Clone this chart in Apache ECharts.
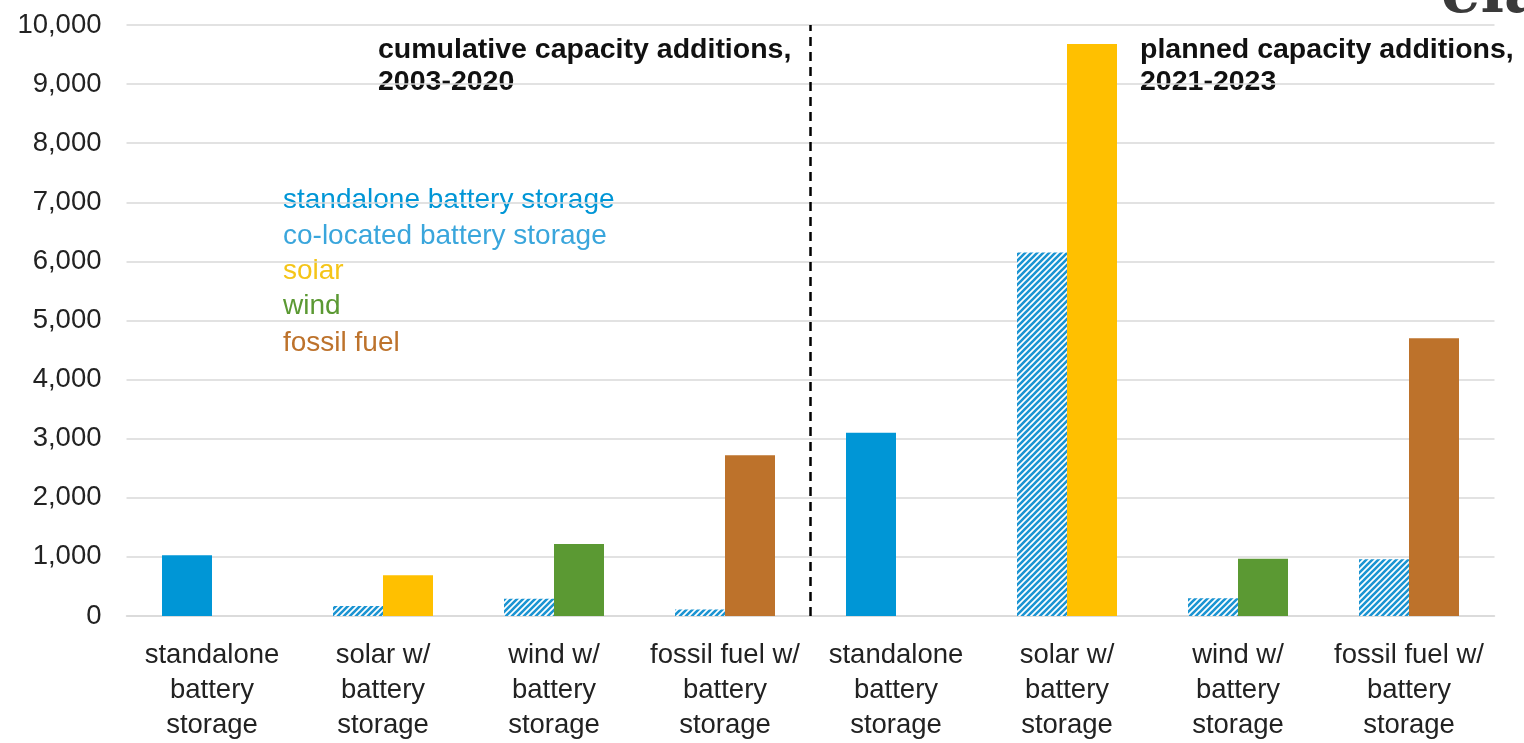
<!DOCTYPE html>
<html><head><meta charset="utf-8">
<script src="https://cdn.jsdelivr.net/npm/echarts@6/dist/echarts.min.js"></script>
<style>html,body{margin:0;padding:0;background:#fff;overflow:hidden}#c{width:1524px;height:743px}</style>
</head><body><div id="c"></div>
<script>
const categories = ['standalone\nbattery\nstorage','solar w/\nbattery\nstorage','wind w/\nbattery\nstorage','fossil fuel w/\nbattery\nstorage','standalone\nbattery\nstorage','solar w/\nbattery\nstorage','wind w/\nbattery\nstorage','fossil fuel w/\nbattery\nstorage'];
const standalone = [1030, null, null, null, 3100, null, null, null];
const colocated  = [null, 170, 290, 110, null, 6150, 300, 960];
const solar      = [null, 690, null, null, null, 9680, null, null];
const wind       = [null, null, 1220, null, null, null, 970, null];
const fossil     = [null, null, null, 2720, null, null, null, 4700];
const yTicks = [0,1000,2000,3000,4000,5000,6000,7000,8000,9000,10000];

const BLUE='#0096d6', YEL='#ffc000', GRN='#5b9933', BRN='#bd722b';
function hatch(){
  const s=6, cv=document.createElement('canvas'); cv.width=s; cv.height=s;
  const g=cv.getContext('2d'); g.fillStyle='#fff'; g.fillRect(0,0,s,s);
  g.strokeStyle='#1b94d2'; g.lineWidth=2.6;
  g.beginPath();
  g.moveTo(0,s); g.lineTo(s,0);
  g.moveTo(-s/2,s/2); g.lineTo(s/2,-s/2);
  g.moveTo(s/2,s*1.5); g.lineTo(s*1.5,s/2);
  g.stroke();
  return {image:cv, repeat:'repeat'};
}
const chart = echarts.init(document.getElementById('c'));
const FONT='Liberation Sans';
const FS=27.5;
const legendItems=[['standalone battery storage',BLUE],['co-located battery storage','#3aa6dc'],['solar','#f5c518'],['wind','#5b9933'],['fossil fuel',BRN]];
const graphics = legendItems.map((it,i)=>({type:'text',x:283,y:[200,236,271,306,343][i],style:{text:it[0],fill:it[1],font:'28px "'+FONT+'"',verticalAlign:'middle'}}));
graphics.push({type:'text',x:378,y:34,style:{text:'cumulative capacity additions,\n2003-2020',fill:'#111',font:'bold 28.5px "'+FONT+'"',lineHeight:32,verticalAlign:'top'}});
graphics.push({type:'text',x:1140,y:34,style:{text:'planned capacity additions,\n2021-2023',fill:'#111',font:'bold 28.5px "'+FONT+'"',lineHeight:32,verticalAlign:'top'}});
graphics.push({type:'text',x:1441,y:27,style:{text:'eia',fill:'#3a3a3a',font:'bold 62px "DejaVu Serif"',verticalAlign:'bottom'}});
const bw=50;
chart.setOption({
  animation:false,
  grid:{left:126.5,right:29.5,top:25,bottom:114},
  xAxis:[{type:'category',data:categories,axisTick:{show:false},axisLine:{lineStyle:{color:'#d9d9d9',width:1.5}},
    axisLabel:{color:'#222',fontFamily:FONT,fontSize:FS,lineHeight:35,margin:22,interval:0}},
    {type:'value',min:0,max:8,show:false}],
  yAxis:{type:'value',min:0,max:10000,interval:1000,axisLine:{show:false},axisTick:{show:false},
    splitLine:{lineStyle:{color:'#d9d9d9',width:1.5}},
    axisLabel:{color:'#222',fontFamily:FONT,fontSize:FS,margin:25,formatter:v=>v.toLocaleString('en-US')}},
  graphic:graphics,
  series:[
    {name:'standalone',type:'bar',stack:'bat',data:standalone,barWidth:bw,barGap:'0%',itemStyle:{color:BLUE}},
    {name:'co-located',type:'bar',stack:'bat',data:colocated,barWidth:bw,barGap:'0%',itemStyle:{color:hatch()}},
    {name:'solar',type:'bar',stack:'gen',data:solar,barWidth:bw,barGap:'0%',itemStyle:{color:YEL}},
    {name:'wind',type:'bar',stack:'gen',data:wind,barWidth:bw,barGap:'0%',itemStyle:{color:GRN}},
    {name:'fossil',type:'bar',stack:'gen',data:fossil,barWidth:bw,barGap:'0%',itemStyle:{color:BRN}},
    {name:'divider',type:'line',xAxisIndex:1,data:[[4,0]],showSymbol:false,symbolSize:0,lineStyle:{opacity:0},
      markLine:{silent:true,symbol:'none',label:{show:false},lineStyle:{color:'#000',type:[9,6],width:2.5},data:[{xAxis:4}]}}
  ]
});
</script></body></html>
